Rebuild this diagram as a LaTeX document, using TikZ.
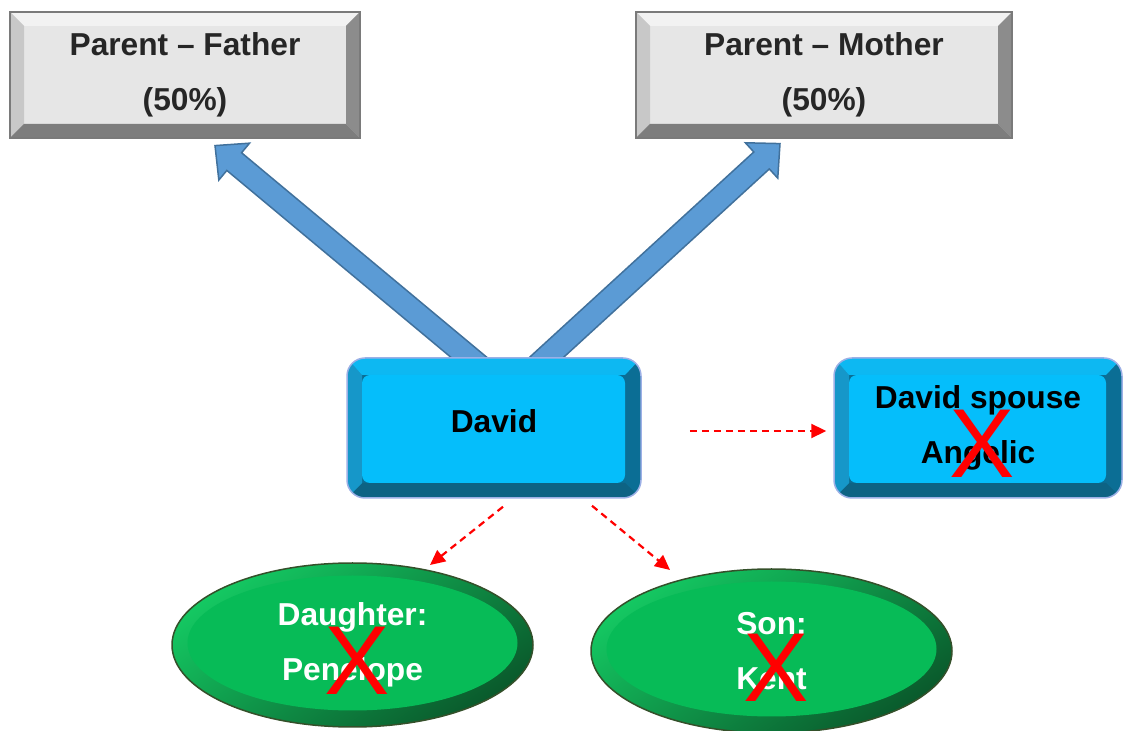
\documentclass[tikz,border=0pt]{standalone}
\usepackage{fontspec}
\setmainfont{Liberation Sans}
\usetikzlibrary{shapes.geometric,arrows.meta,calc,backgrounds}

% grey bevelled boxes
\definecolor{pface}{HTML}{E6E6E6}
\definecolor{ptop}{HTML}{F2F2F2}
\definecolor{pleft}{HTML}{C8C8C8}
\definecolor{pright}{HTML}{8C8C8C}
\definecolor{pbottom}{HTML}{7D7D7D}
\definecolor{pborder}{HTML}{7A7A7A}
\definecolor{ptext}{HTML}{262626}
% blue rounded boxes
\definecolor{bface}{HTML}{05BEFB}
\definecolor{btop}{HTML}{0DB8F2}
\definecolor{bleft}{HTML}{1697C9}
\definecolor{bright}{HTML}{0B6E95}
\definecolor{bbottom}{HTML}{0D6384}
\definecolor{bborder}{HTML}{9CB0E6}
% green ovals
\definecolor{glight}{HTML}{14C862}
\definecolor{gdark}{HTML}{0A5A2C}
\definecolor{gface}{HTML}{07BB57}
\definecolor{gborder}{HTML}{34502A}
% block arrows
\definecolor{afill}{HTML}{5B9BD5}
\definecolor{aline}{HTML}{41719C}
\definecolor{xred}{HTML}{FF0000}

\newcommand\bigfont{\fontsize{31.7pt}{55.5pt}\selectfont\bfseries}
\newcommand\crossfont{\fontsize{98pt}{98pt}\selectfont}

% thick block arrow from #1 (base) to #2 (tip)
\newcommand\fatarrow[2]{%
  \coordinate (fah) at ($(#2)!25pt!(#1)$);
  \filldraw[blockarrow]
    ($(#1)!11.5pt!-90:(#2)$) -- ($(fah)!11.5pt!-90:(#2)$) -- ($(fah)!24pt!-90:(#2)$)
    -- (#2)
    -- ($(fah)!24pt!90:(#2)$) -- ($(fah)!11.5pt!90:(#2)$) -- ($(#1)!11.5pt!90:(#2)$) -- cycle;}

\begin{document}
\begin{tikzpicture}[x=1pt,y=1pt,
  parentbox/.style={rectangle, draw=pborder, line width=1.2pt, fill=pface,
    minimum width=#1, minimum height=126pt, inner sep=0pt, align=center,
    text=ptext, font=\bigfont,
    path picture={
      \path (path picture bounding box.south west) coordinate (bb1)
            (path picture bounding box.north east) coordinate (bb2)
            (path picture bounding box.north west) coordinate (bb3)
            (path picture bounding box.south east) coordinate (bb4);
      \fill[ptop] (bb3) -- (bb2) -- ([shift={(-14pt,-14pt)}]bb2) -- ([shift={(14pt,-14pt)}]bb3) -- cycle;
      \fill[pleft] (bb3) -- (bb1) -- ([shift={(14pt,14pt)}]bb1) -- ([shift={(14pt,-14pt)}]bb3) -- cycle;
      \fill[pright] (bb2) -- (bb4) -- ([shift={(-14pt,14pt)}]bb4) -- ([shift={(-14pt,-14pt)}]bb2) -- cycle;
      \fill[pbottom] (bb1) -- (bb4) -- ([shift={(-14pt,14pt)}]bb4) -- ([shift={(14pt,14pt)}]bb1) -- cycle;
    }},
  bluebox/.style={rectangle, draw=bborder, line width=1.5pt, rounded corners=18pt,
    fill=bright, minimum width=#1, minimum height=140pt, inner sep=0pt,
    align=center, text=black, font=\bigfont,
    path picture={
      \path (path picture bounding box.south west) coordinate (bb1)
            (path picture bounding box.north east) coordinate (bb2)
            (path picture bounding box.north west) coordinate (bb3)
            (path picture bounding box.south east) coordinate (bb4);
      \fill[bbottom, sharp corners] (bb1) -- (bb4) -- ([shift={(-16pt,15pt)}]bb4) -- ([shift={(15pt,15pt)}]bb1) -- cycle;
      \fill[bleft, sharp corners] (bb1) -- (bb3) -- ([shift={(15pt,-17pt)}]bb3) -- ([shift={(15pt,15pt)}]bb1) -- cycle;
      \fill[btop, sharp corners] (bb3) -- (bb2) -- ([shift={(-16pt,-17pt)}]bb2) -- ([shift={(15pt,-17pt)}]bb3) -- cycle;
      \fill[bface, rounded corners=8pt] ([shift={(15pt,15pt)}]bb1) rectangle ([shift={(-16pt,-17pt)}]bb2);
    }},
  greenoval/.style={ellipse, draw=gborder, line width=1.5pt,
    top color=glight, bottom color=gdark, shading angle=35,
    minimum width=361pt, minimum height=164pt, inner sep=0pt,
    align=center, text=white, font=\bigfont,
    path picture={
      \fill[gface] ([yshift=2pt]path picture bounding box.center) ellipse [x radius=165pt, y radius=67.5pt];
    }},
  crossmark/.style={anchor=base, inner sep=0pt, text=xred, font=\crossfont},
  blockarrow/.style={fill=afill, draw=aline, line width=1.5pt},
  dasharrow/.style={draw=xred, line width=2.2pt, dash pattern=on 7pt off 5pt,
    -{Triangle[length=15pt,width=14pt]}}
]
\useasboundingbox (0,0) rectangle (1125,731);

% parents
\node[parentbox=350pt] (father) at (185,656) {Parent – Father\\(50\%)};
\node[parentbox=376pt] (mother) at (824,656) {Parent – Mother\\(50\%)};

% David and spouse
\node[bluebox=294pt, text depth=14pt] (david) at (494,303) {David};
\node[bluebox=288pt] (spouse) at (978,303) {David spouse\\Angelic};

% children
\node[greenoval] (daughter) at (352.5,86) {Daughter:\\Penelope};
\node[greenoval] (son) at (771.5,80) {Son:\\Kent};

% crossed-out marks
\node[crossmark] (xspouse) at (982.5,253) {X};
\node[crossmark] (xdaughter) at (357,36) {X};
\node[crossmark] (xson) at (776.5,29) {X};

% inheritance arrows up to the parents, behind David's box
\begin{scope}[on background layer]
  \coordinate (fbase) at ([shift={(-1.2pt,-20pt)}]david.north);
  \coordinate (ftip) at ([shift={(30pt,-7pt)}]father.south);
  \coordinate (mbase) at ([shift={(30.8pt,-20pt)}]david.north);
  \coordinate (mtip) at ([shift={(-44pt,-5pt)}]mother.south);
  \fatarrow{fbase}{ftip}
  \fatarrow{mbase}{mtip}
\end{scope}

% dashed links to spouse and children
\draw[dasharrow, shorten <=48pt, shorten >=7pt] ([yshift=-3pt]david.east) -- ([yshift=-3pt]spouse.west);
\draw[dasharrow] ([shift={(9pt,-8pt)}]david.south) -- ([shift={(77.5pt,80pt)}]daughter.center);
\draw[dasharrow] ([shift={(98pt,-7pt)}]david.south) -- ([shift={(-101.5pt,81pt)}]son.center);
\end{tikzpicture}
\end{document}
